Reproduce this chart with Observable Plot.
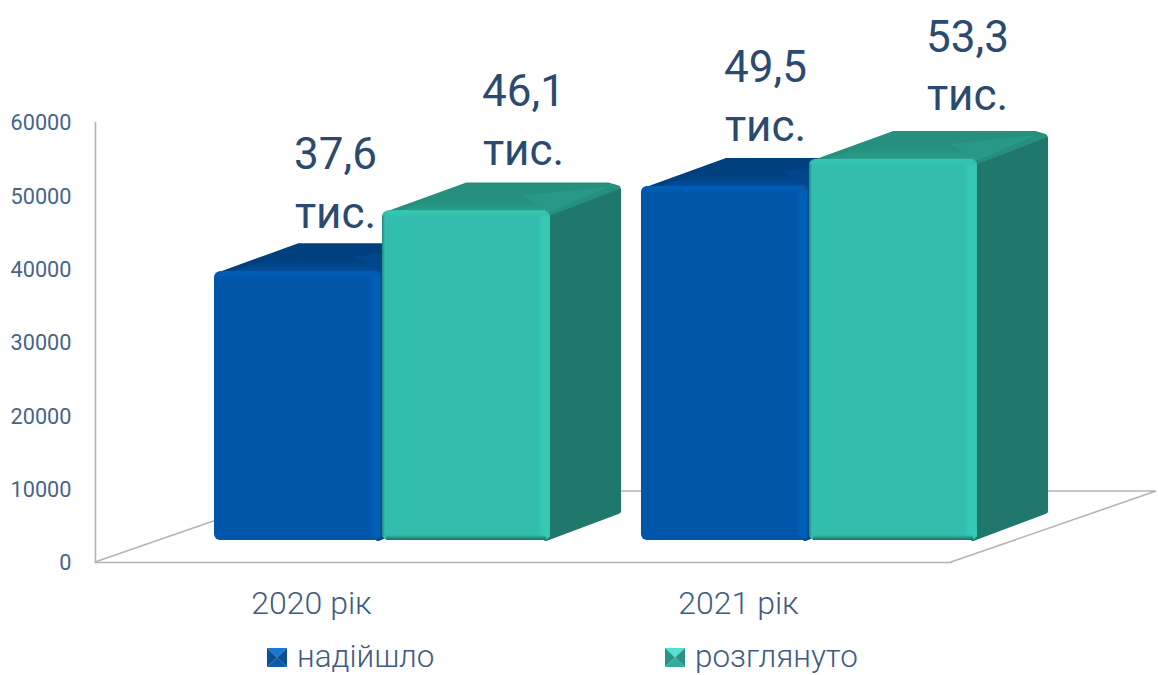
<!DOCTYPE html>
<html>
<head>
<meta charset="utf-8">
<script src="https://cdn.jsdelivr.net/npm/d3@7"></script>
<script src="https://cdn.jsdelivr.net/npm/@observablehq/plot@0.6"></script>
<style>
  html, body { margin: 0; padding: 0; background: #fff; }
  #chart { width: 1158px; }
  #legend { position: relative; width: 1158px; height: 50px; font-family: Roboto, sans-serif; font-weight: 300; font-size: 31.4px; line-height: 30px; color: #3f5c80; }
  #legend .item { position: absolute; top: 17px; height: 30px; display: flex; align-items: center; white-space: nowrap; }
  #legend svg { margin-right: 10px; }
</style>
</head>
<body>
<div id="chart"></div>
<div id="legend"></div>
<script>
const years = ["2020 рік", "2021 рік"];
const received = [37600, 49500];
const reviewed = [46100, 53300];
const seriesNames = ["надійшло", "розглянуто"];
const yTicks = [0, 10000, 20000, 30000, 40000, 50000, 60000];

// styling only
const foreshorten = 0.975, frontLift = -22;
const labelShift = [[-47, 141], [-44, 158]];
const labelLift = [[-3, -5], [-5, -8]];
const inkColor = "#2b4a6f";
const palettes = [
  {front: "#0056a8", side: "#013f7e", topBack: "#01407e", topFront: "#0152a4", wedge: "#01468a", glow: "#0060b8", edge: "#003f80", bottom: null},
  {front: "#33bdac", side: "#20776c", topBack: "#268f7e", topFront: "#2aa18f", wedge: "#299888", glow: "#36c8b5", edge: "#36c8b5", bottom: "#1c6e63"}
];
const swatches = [
  {top: "#1f78d0", side: "#0a4f96", bottom: "#0b5ba8", x: 267},
  {top: "#4fe3cf", side: "#2a9385", bottom: "#2fae9d", x: 665}
];

const rows = s => years.map((year, i) => ({year, value: s[i]}));
const fmt = v => (v / 1000).toFixed(1).replace(".", ",") + "\nтис.";
let uid = 0;

function gradient(defs, horizontal, stops) {
  const id = "g" + (++uid);
  const lg = defs.append("linearGradient").attr("id", id)
    .attr("x1", 0).attr("y1", 0).attr("x2", horizontal ? 1 : 0).attr("y2", horizontal ? 0 : 1);
  stops.forEach(([o, c, a]) => lg.append("stop").attr("offset", o).attr("stop-color", c).attr("stop-opacity", a ?? 1));
  return `url(#${id})`;
}

function bar3d(p) {
  return function (index, scales, values, dims, ctx, next) {
    const node = next(index, scales, values, dims, ctx);
    const g = d3.select(node);
    const defs = g.insert("defs", ":first-child");
    const rects = g.selectAll("rect").nodes();
    for (const r of rects) {
      const x = +r.getAttribute("x"), y = +r.getAttribute("y"), w = +r.getAttribute("width"), h = +r.getAttribute("height");
      const x2 = x + w, b = y + h;
      r.setAttribute("rx", 6);
      const before = () => r;
      const poly = pts => pts.map(q => q.join(",")).join(" ");
      g.insert("polygon", before).attr("points", poly([[x2 - 4, y + 4], [x2 + 68, y - 21], [x2 + 68, b - 29], [x2 - 4, b - 2]]))
        .attr("fill", p.side).attr("stroke", p.side).attr("stroke-width", 6).attr("stroke-linejoin", "round");
      g.insert("polygon", before).attr("points", poly([[x + 5, y + 3], [x + 85, y - 26], [x2 + 58, y - 26], [x2 + 68, y - 23], [x2 - 2, y + 4]]))
        .attr("fill", gradient(defs, false, [[0, p.topBack], [0.5, p.topBack], [1, p.topFront]]))
        .attr("stroke", p.topBack).attr("stroke-width", 4).attr("stroke-linejoin", "round");
      g.insert("polygon", before).attr("points", poly([[x2, y + 1], [x2 - 27, y - 15], [x2 + 60, y - 24]]))
        .attr("fill", p.wedge);
      const strip = (sx, sy, sw, sh, fill) => g.append("rect").attr("class", "strip").attr("x", sx).attr("y", sy).attr("width", sw).attr("height", sh).attr("fill", fill);
      strip(x + 5, y, w - 10, 8, gradient(defs, false, [[0, p.glow], [1, p.glow, 0]]));
      strip(x2 - 13, y + 5, 13, h - 8, gradient(defs, true, [[0, p.glow, 0], [0.4, p.glow], [0.8, p.glow], [1, p.edge, 0.8]]));
      if (p.bottom) {
        strip(x + 4, b - 5, w - 8, 5, gradient(defs, false, [[0, p.bottom, 0], [1, p.bottom]]));
        strip(x, y + 5, 3, h - 9, gradient(defs, true, [[0, "#1f8a7c"], [1, "#1f8a7c", 0]]));
      }
    }
    return node;
  };
}

function floorEdges(index, scales, values, dims) {
  const {marginLeft: l, width, marginRight, height, marginBottom} = dims;
  const r = width - marginRight, b = height - marginBottom;
  const g = d3.create("svg:g").attr("fill", "none").attr("stroke", "#b4b4b4").attr("stroke-width", 1.6);
  g.append("path").attr("d", `M${l},${b}L${l + 205},${b - 71}H${r + 205}L${r},${b}`);
  return g.node();
}

const bandWidth = 336;
const chart = Plot.plot({
  width: 1158,
  height: 625,
  marginLeft: 95,
  marginRight: 207,
  marginTop: 122,
  marginBottom: 63,
  style: {fontFamily: "Roboto, sans-serif", background: "#fff"},
  x: {type: "band", domain: years, range: [214, 977], paddingInner: 0.213, paddingOuter: 0, round: false, label: null},
  y: {domain: [0, 60000], label: null},
  marks: [
    floorEdges,
    Plot.frame({anchor: "left", stroke: "#b4b4b4", strokeWidth: 1.6}),
    Plot.frame({anchor: "bottom", stroke: "#b4b4b4", strokeWidth: 1.6}),
    Plot.axisY({ticks: yTicks, tickFormat: d => String(d), tickSize: 0, tickPadding: 24, fontSize: 21.7, fontWeight: 400, color: "#47648a", dy: 1, label: null}),
    Plot.axisX({tickSize: 0, tickPadding: 29, fontSize: 32, fontWeight: 300, color: "#3f5c80", dx: -71, label: null}),
    ...[received, reviewed].map((s, k) => Plot.barY(rows(s), {
      x: "year",
      y: d => d.value * foreshorten,
      dy: frontLift,
      fill: palettes[k].front,
      insetLeft: k ? bandWidth / 2 : 0,
      insetRight: k ? 0 : bandWidth / 2,
      render: bar3d(palettes[k])
    })),
    ...[received, reviewed].flatMap((s, k) => rows(s).map((d, i) => Plot.text([d], {
      x: "year",
      y: e => e.value * foreshorten,
      text: e => fmt(e.value),
      dx: labelShift[i][k],
      dy: frontLift - 89 + labelLift[i][k],
      fontSize: 44,
      lineHeight: 1.33,
      fontWeight: 400,
      fill: inkColor
    })))
  ]
});
document.getElementById("chart").appendChild(chart);

const legend = document.getElementById("legend");
seriesNames.forEach((name, i) => {
  const s = swatches[i];
  const item = document.createElement("div");
  item.className = "item";
  item.style.left = s.x + "px";
  item.innerHTML = `<svg width="20" height="19" viewBox="0 0 20 19">
    <polygon points="0,0 20,0 10,9.5" fill="${s.top}"/>
    <polygon points="0,0 10,9.5 0,19" fill="${s.side}"/>
    <polygon points="20,0 10,9.5 20,19" fill="${s.side}"/>
    <polygon points="0,19 20,19 10,9.5" fill="${s.bottom}"/></svg><span>${name}</span>`;
  legend.appendChild(item);
});
</script>
</body>
</html>
